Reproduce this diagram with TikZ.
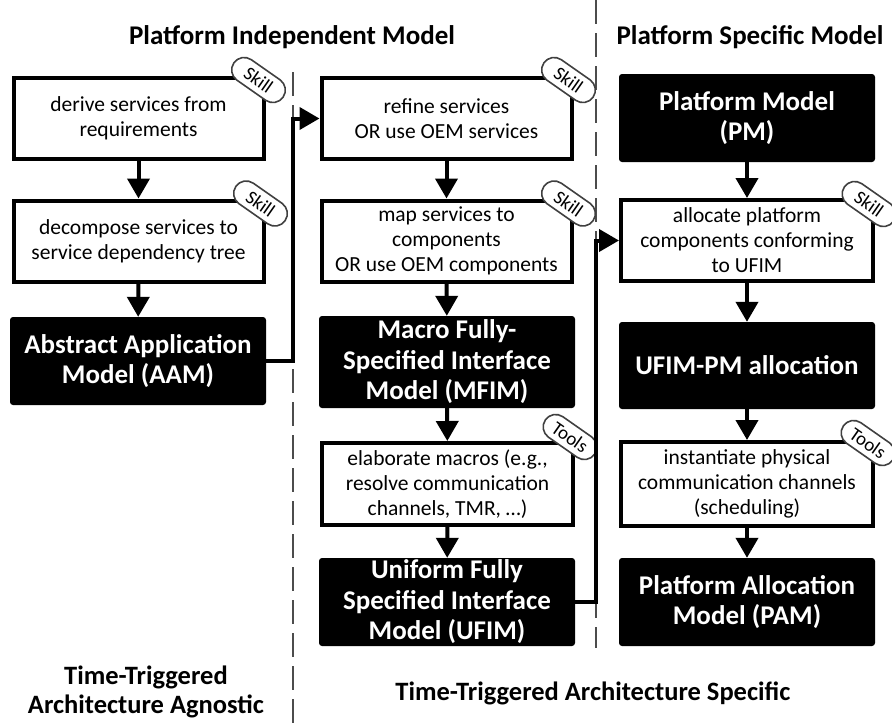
\documentclass[tikz,border=0pt]{standalone}
\usepackage{fontspec}
\setmainfont{Carlito}
\usetikzlibrary{arrows.meta,calc}

\begin{document}
\begin{tikzpicture}[x=1pt,y=-1pt,
  stepbox/.style={draw=black, line width=4pt, fill=white, minimum width=250pt,
    minimum height=81pt, align=center, inner sep=0pt,
    font=\fontsize{21.5}{25}\selectfont},
  modelbox/.style={fill=black, rounded corners=3pt, text=white, minimum width=256pt,
    minimum height=88pt, align=center, inner sep=0pt,
    font=\fontsize{27}{30.5}\selectfont\bfseries},
  tag/.style={rectangle, rounded corners=12.5pt, draw=black!75, line width=1.6pt, fill=white,
    rotate=-35, minimum width=60pt, minimum height=25pt, inner sep=1pt,
    font=\fontsize{19}{19}\selectfont},
  conn/.style={line width=4pt, -{Triangle[length=20pt,width=22pt]}},
  divider/.style={draw=black!70, line width=1.5pt, dash pattern=on 24pt off 9pt},
  heading/.style={font=\fontsize{27}{29}\selectfont\bfseries, align=center},
  footer/.style={font=\fontsize{26.5}{29}\selectfont\bfseries, align=center},
]
\useasboundingbox (0,0) rectangle (892,724);

% column dividers
\draw[divider] (293,72) -- (293,724);
\draw[divider] (596,0) -- (596,648);

% headings
\node[heading] (hpim) at (292,37) {Platform Independent Model};
\node[heading] (hpsm) at (750,37) {Platform Specific Model};
\node[footer] (hagn) at (146,692) {Time-Triggered\\Architecture Agnostic};
\node[footer] (hspec) at (593,693) {Time-Triggered Architecture Specific};

% left column
\node[stepbox] (b1) at (138.5,118.5) {derive services from\\requirements};
\node[stepbox] (b2) at (138.5,241) {decompose services to\\service dependency tree};
\node[modelbox] (aam) at (138,361) {Abstract Application\\Model (AAM)};

% middle column
\node[stepbox] (b3) at (446.5,118.5) {refine services\\OR use OEM services};
\node[stepbox] (b4) at (446.5,241) {map services to\\components\\OR use OEM components};
\node[modelbox, minimum height=92pt] (mfim) at (447,362) {Macro Fully-\\Specified Interface\\Model (MFIM)};
\node[stepbox, minimum width=251pt, minimum height=82pt] (b5) at (447.5,484) {elaborate macros (e.g.,\\resolve communication\\channels, TMR, …)};
\node[modelbox] (ufim) at (447,602) {Uniform Fully\\Specified Interface\\Model (UFIM)};

% right column
\node[modelbox] (pm) at (747,118) {Platform Model\\(PM)};
\node[stepbox, minimum width=252pt] (b6) at (747,240.5) {allocate platform\\components conforming\\to UFIM};
\node[modelbox, minimum height=87pt] (alloc) at (747,365.5) {UFIM-PM allocation};
\node[stepbox, minimum width=252pt, minimum height=84pt] (b7) at (747,484) {instantiate physical\\communication channels\\(scheduling)};
\node[modelbox] (pam) at (747,602) {Platform Allocation\\Model (PAM)};

% method tags
\node[tag] (t1) at ($(b1.north east)+(-7,4)$) {Skill};
\node[tag] (t2) at ($(b2.north east)+(-5,5)$) {Skill};
\node[tag] (t3) at ($(b3.north east)+(-5,4)$) {Skill};
\node[tag] (t4) at ($(b4.north east)+(-5,5)$) {Skill};
\node[tag] (t5) at ($(b6.north east)+(-6,6)$) {Skill};
\node[tag] (t6) at ($(b5.north east)+(-5,-4)$) {Tools};
\node[tag] (t7) at ($(b7.north east)+(-7,3)$) {Tools};

% flow
\draw[conn] (b1) -- (b2);
\draw[conn] (b2) -- (aam);
\draw[conn] (aam.east) -- ++(27,0) |- (b3.west);
\draw[conn] (b3) -- (b4);
\draw[conn] (b4) -- (mfim);
\draw[conn] (mfim) -- (b5);
\draw[conn] (b5) -- (ufim);
\draw[conn] (ufim.east) -- ++(21,0) |- (b6.west);
\draw[conn] (pm) -- (b6);
\draw[conn] (b6) -- (alloc);
\draw[conn] (alloc) -- (b7);
\draw[conn] (b7) -- (pam);
\end{tikzpicture}
\end{document}
